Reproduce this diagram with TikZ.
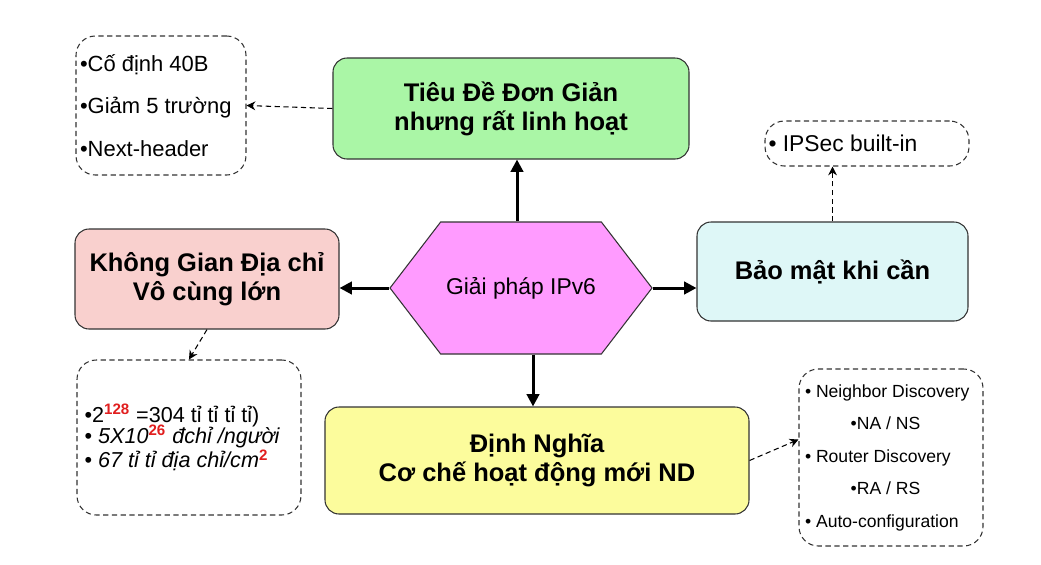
\documentclass[tikz,border=0pt]{standalone}
\usepackage{fontspec}
\setmainfont{Liberation Sans}
\usepackage{xcolor}
\usetikzlibrary{shapes.symbols,arrows.meta}

\definecolor{headgreen}{RGB}{170,246,166}
\definecolor{spacepink}{RGB}{249,208,206}
\definecolor{secucyan}{RGB}{222,247,247}
\definecolor{ndyellow}{RGB}{252,252,156}
\definecolor{hexpink}{RGB}{255,155,255}
\definecolor{supred}{RGB}{225,30,30}

\newcommand{\redsup}[1]{\textsuperscript{\upshape\bfseries\textcolor{supred}{#1}}}
\newcommand{\normspace}{\spaceskip=0pt\xspaceskip=0pt\lineskiplimit=-20pt\relax}

\tikzset{
  mainbox/.style={draw=black!80, line width=0.6pt, rounded corners=8pt, inner sep=0pt,
    align=center, font=\fontsize{14.5}{16.5}\selectfont\bfseries},
  notebox/.style={draw=black!80, line width=0.6pt, dash pattern=on 3pt off 2pt,
    rounded corners=11pt, inner sep=0pt, align=left},
  mainarrow/.style={line width=1.7pt, -{Triangle[length=7pt,width=7pt]}},
  notearrow/.style={line width=0.6pt, dash pattern=on 3pt off 2pt,
    -{Stealth[length=5pt,width=5pt]}}
}

\begin{document}
\begin{tikzpicture}
\fill[white] (0,0) rectangle (20.82,-11.28);
\useasboundingbox (0,0) rectangle (20.82,-11.28);

% main boxes
\node[mainbox, fill=headgreen, minimum width=7.12cm, minimum height=2.02cm] (header) at (10.22,-2.17)
  {Tiêu Đề Đơn Giản\\nhưng rất linh hoạt};
\node[mainbox, fill=spacepink, minimum width=5.28cm, minimum height=2.0cm] (space) at (4.14,-5.58)
  {Không Gian Địa chỉ\\Vô cùng lớn};
\node[mainbox, fill=secucyan, minimum width=5.42cm, minimum height=1.98cm] (secu) at (16.65,-5.43)
  {Bảo mật khi cần};
\node[mainbox, fill=ndyellow, minimum width=8.48cm, minimum height=2.14cm] (nd) at (10.74,-9.21)
  {Định Nghĩa\\Cơ chế hoạt động mới ND};

% centre
\node[signal, signal to=west and east, signal pointer angle=105, draw=black!80, line width=0.6pt,
  fill=hexpink, minimum width=5.24cm, minimum height=2.64cm, inner sep=0pt,
  font=\fontsize{13}{15}\selectfont] (ipv6) at (10.42,-5.76) {Giải pháp IPv6};

% notes
\node[notebox, minimum width=3.4cm, minimum height=2.78cm, text width=3.24cm,
  font=\fontsize{12.5}{24}\selectfont]
  (headnote) at (3.22,-2.11) {\normspace•Cố định 40B\\•Giảm 5 trường\\•Next-header};
\node[notebox, minimum width=4.08cm, minimum height=0.9cm, text width=3.94cm,
  font=\fontsize{13}{15}\selectfont]
  (secunote) at (17.34,-2.87) {\normspace• IPSec built-in};
\node[notebox, minimum width=4.48cm, minimum height=3.1cm, text width=4.18cm,
  font=\fontsize{12.3}{12.2}\selectfont]
  (spacenote) at (3.78,-8.75)
  {\normspace•2\redsup{128} =304 tỉ tỉ tỉ tỉ)\\• \textit{5X10\redsup{26} đchỉ /người}\\• \textit{67 tỉ tỉ địa chỉ/cm\redsup{2}}};
\node[notebox, minimum width=3.68cm, minimum height=3.54cm, text width=3.44cm,
  font=\fontsize{10}{18.5}\selectfont]
  (ndnote) at (17.82,-9.15)
  {\normspace• Neighbor Discovery\\\hspace*{26pt}•NA / NS\\• Router Discovery\\\hspace*{26pt}•RA / RS\\• Auto-configuration};

% connectors
\draw[mainarrow] ([xshift=-0.08cm]ipv6.north) -- ([xshift=-0.08cm]ipv6.north |- header.south);
\draw[mainarrow] (ipv6.west) -- (ipv6.west -| space.east);
\draw[mainarrow] (ipv6.east) -- (ipv6.east -| secu.west);
\draw[mainarrow] ([xshift=-0.08cm]nd.north |- ipv6.south) -- ([xshift=-0.08cm]nd.north);

\draw[notearrow] (header.west) -- (headnote.east);
\draw[notearrow] (secu.north) -- (secu.north |- secunote.south);
\draw[notearrow] (space.south) -- (spacenote.north);
\draw[notearrow] (nd.east) -- (ndnote.169);
\end{tikzpicture}
\end{document}
